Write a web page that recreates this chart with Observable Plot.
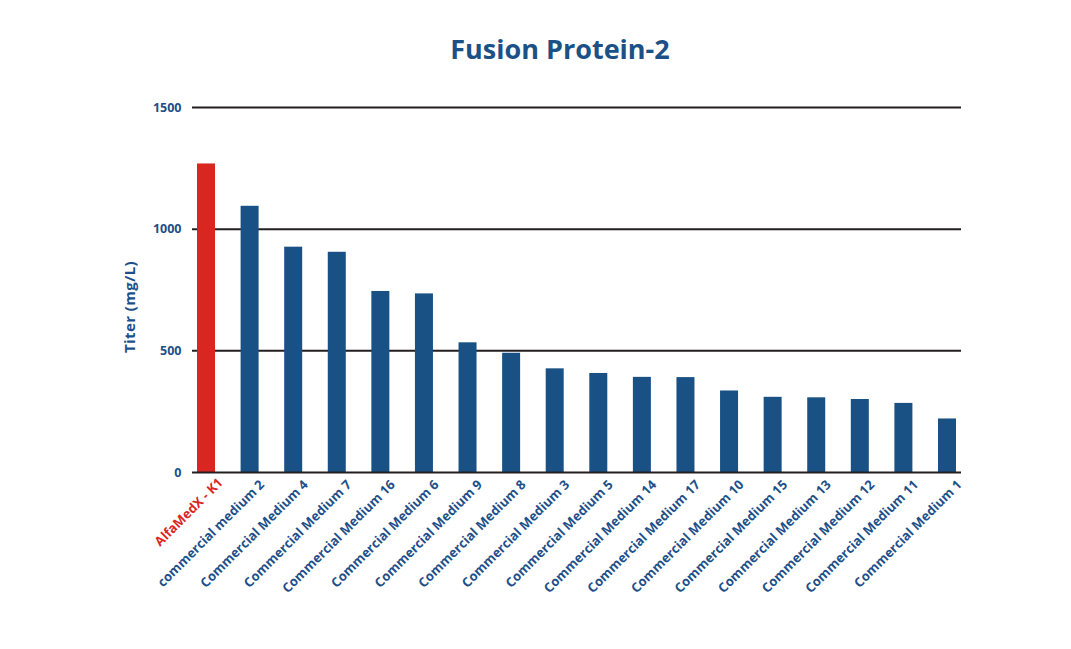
<!DOCTYPE html>
<html>
<head>
<meta charset="utf-8">
<script src="https://cdn.jsdelivr.net/npm/d3@7"></script>
<script src="https://cdn.jsdelivr.net/npm/@observablehq/plot@0.6"></script>
<style>
  html, body { margin: 0; padding: 0; background: #ffffff; }
  #wrap { width: 1071px; height: 649px; position: relative; overflow: hidden; }
  #title { box-sizing: border-box; height: 80px; padding-top: 35px; padding-left: 49px; text-align: center;
           font-family: "Open Sans", "Noto Sans", sans-serif; font-weight: 700; font-size: 27px; line-height: 27px; color: #1b5186; }
  #ylabel { position: absolute; left: 129px; top: 307px; transform: translate(-50%, -50%) rotate(-90deg);
            white-space: nowrap; font-family: "Open Sans", "Noto Sans", sans-serif; font-weight: 700; font-size: 15px;
            letter-spacing: 0.4px; line-height: 15px; color: #1d4f8a; }
  svg { display: block; }
</style>
</head>
<body>
<div id="wrap">
  <div id="title">Fusion Protein-2</div>
  <div id="chart"></div>
  <div id="ylabel"></div>
</div>
<script>
const categories = [
  "AlfaMedX - K1", "commercial medium 2", "Commercial Medium 4", "Commercial Medium 7",
  "Commercial Medium 16", "Commercial Medium 6", "Commercial Medium 9", "Commercial Medium 8",
  "Commercial Medium 3", "Commercial Medium 5", "Commercial Medium 14", "Commercial Medium 17",
  "Commercial Medium 10", "Commercial Medium 15", "Commercial Medium 13", "Commercial Medium 12",
  "Commercial Medium 11", "Commercial Medium 1"
];
const titers = [1268, 1094, 926, 905, 744, 734, 533, 490, 426, 407, 391, 390, 335, 309, 307, 300, 284, 220];
const highlighted = ["AlfaMedX - K1"];
const yTicks = [0, 500, 1000, 1500];
const yLabel = "Titer (mg/L)";

const BLUE = "#1a5185";
const RED = "#d9261f";
const TEXTBLUE = "#1d4f8a";
const data = categories.map((c, i) => ({category: c, titer: titers[i], hl: highlighted.includes(c)}));

document.getElementById("ylabel").textContent = yLabel;

const labelStyle = {x: "category", text: "category", frameAnchor: "bottom", rotate: -45, textAnchor: "end", fontSize: 13, fontWeight: 700};

const chart = Plot.plot({
  width: 1071,
  height: 569,
  marginLeft: 192,
  marginRight: 110,
  marginTop: 27,
  marginBottom: 177,
  style: {fontFamily: "'Open Sans', 'Noto Sans', sans-serif", background: "#ffffff"},
  x: {domain: categories, paddingInner: 0.587, paddingOuter: 0.115, round: false, axis: null},
  y: {domain: [0, 1500], axis: null},
  marks: [
    Plot.ruleY(yTicks.filter(t => t !== 0), {y: d => d, stroke: "#231f20", strokeWidth: 2}),
    Plot.barY(data, {x: "category", y: "titer", fill: d => d.hl ? RED : BLUE}),
    Plot.ruleY([0], {stroke: "#231f20", strokeWidth: 2}),
    Plot.axisY({ticks: yTicks, tickFormat: d => String(d), tickSize: 0, tickPadding: 11, fontSize: 12.5, fontWeight: 700, fill: TEXTBLUE, label: null}),
    Plot.text(data.filter(d => !d.hl), {...labelStyle, dx: 15, dy: 13, fill: TEXTBLUE}),
    Plot.text(data.filter(d => d.hl), {...labelStyle, dx: 17, dy: 11, fill: RED})
  ]
});
document.getElementById("chart").appendChild(chart);
</script>
</body>
</html>
